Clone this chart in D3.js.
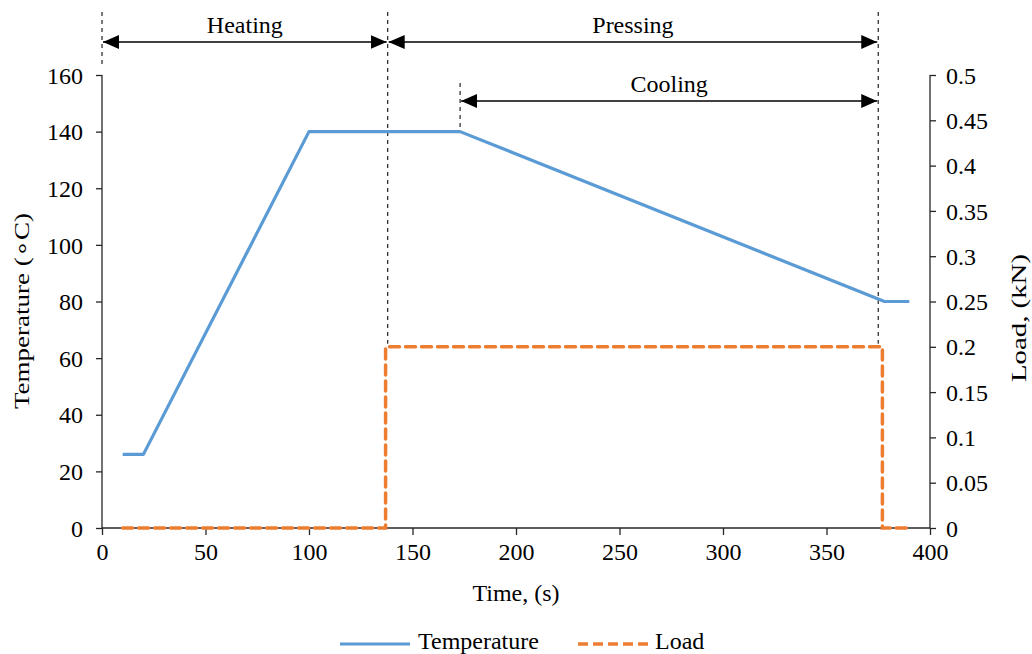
<!DOCTYPE html>
<html>
<head>
<meta charset="utf-8">
<script src="https://cdn.jsdelivr.net/npm/d3@7"></script>
<style>
  html, body { margin: 0; padding: 0; background: #fff; }
  svg { display: block; font-family: "Liberation Serif", "Times New Roman", serif; }
  svg text { font-family: "Liberation Serif", "Times New Roman", serif; }
</style>
</head>
<body>
<svg id="chart" width="1032" height="654"></svg>
<script>
// Temperature profile (°C) over time (s)
const tempTime = [10, 20, 100, 173, 378, 390];
const tempValue = [26, 26, 140, 140, 80, 80];

// Applied load (kN) over time (s)
const loadTime = [10, 137, 137, 377, 377, 390];
const loadValue = [0, 0, 0.2, 0.2, 0, 0];

// Axis ticks
const timeTicks = [0, 50, 100, 150, 200, 250, 300, 350, 400];
const tempTicks = [0, 20, 40, 60, 80, 100, 120, 140, 160];
const loadTicks = [0, 0.05, 0.1, 0.15, 0.2, 0.25, 0.3, 0.35, 0.4, 0.45, 0.5];

// Process stages: label, start, end, arrow row
const stageNames = ["Heating", "Pressing", "Cooling"];
const stageStart = [0, 138, 173];
const stageEnd = [138, 375, 375];
const stageRow = [0, 0, 1];

const svg = d3.select("#chart");
const plot = { left: 102, right: 930, top: 75, bottom: 528 };

const x = d3.scaleLinear().domain([0, 400]).range([plot.left, plot.right]);
const yT = d3.scaleLinear().domain([0, 160]).range([plot.bottom, plot.top]);
const yL = d3.scaleLinear().domain([0, 0.5]).range([plot.bottom, plot.top]);

const FONT = 24;
const SERIF = "'Liberation Serif', 'Times New Roman', serif";
const axisColor = "#262626";

// arrowheads
const defs = svg.append("defs");
function marker(id, orient) {
  defs.append("marker")
    .attr("id", id).attr("viewBox", "0 0 16 14")
    .attr("refX", 16).attr("refY", 7)
    .attr("markerWidth", 16).attr("markerHeight", 14)
    .attr("markerUnits", "userSpaceOnUse")
    .attr("orient", orient)
    .append("path").attr("d", "M0,0 L16,7 L0,14 Z").attr("fill", "#000");
}
marker("arrowEnd", "auto");
marker("arrowStart", "auto-start-reverse");

// axes
const leftAxis = svg.append("g").attr("transform", `translate(${plot.left},0)`)
  .call(d3.axisLeft(yT).tickValues(tempTicks).tickSize(6).tickPadding(13).tickFormat(d3.format("d")));
const rightAxis = svg.append("g").attr("transform", `translate(${plot.right},0)`)
  .call(d3.axisRight(yL).tickValues(loadTicks).tickSize(6).tickPadding(10).tickFormat(d => d === 0 ? "0" : String(+d.toFixed(2))));
const bottomAxis = svg.append("g").attr("transform", `translate(0,${plot.bottom})`)
  .call(d3.axisBottom(x).tickValues(timeTicks).tickSize(7).tickPadding(8).tickFormat(d3.format("d")));

[leftAxis, rightAxis, bottomAxis].forEach(g => {
  g.attr("font-family", SERIF).attr("font-size", FONT);
  g.select(".domain").attr("stroke", axisColor).attr("stroke-width", 1.3);
  g.selectAll(".tick line").attr("stroke", axisColor).attr("stroke-width", 1.3);
  g.selectAll("text").attr("font-size", FONT).attr("fill", "#000").attr("font-family", SERIF);
});
leftAxis.select(".domain").attr("d", `M0,${plot.top}V${plot.bottom}`);
rightAxis.select(".domain").attr("d", `M0,${plot.top}V${plot.bottom}`);
bottomAxis.select(".domain").attr("d", `M${plot.left},0H${plot.right}`);
leftAxis.selectAll(".tick text").attr("dy", "0.34em");
rightAxis.selectAll(".tick text").attr("dy", "0.34em");
bottomAxis.selectAll(".tick text").attr("dy", "0.72em");

// stage boundary guides (dashed)
const guide = svg.append("g").attr("stroke", "#333").attr("stroke-width", 1.3)
  .attr("stroke-dasharray", "4,4").attr("fill", "none");
guide.append("line").attr("x1", x(0)).attr("x2", x(0)).attr("y1", 12).attr("y2", 66);
guide.append("line").attr("x1", x(138)).attr("x2", x(138)).attr("y1", 12).attr("y2", yL(0.2) - 3);
guide.append("line").attr("x1", x(173)).attr("x2", x(173)).attr("y1", 83).attr("y2", yT(140) - 2);
guide.append("line").attr("x1", x(375)).attr("x2", x(375)).attr("y1", 12).attr("y2", yL(0.2) - 3);

// stage arrows and labels
const rowY = [42, 101];
const stages = svg.append("g").attr("font-family", SERIF);
stageNames.forEach((name, i) => {
  const y0 = rowY[stageRow[i]];
  stages.append("line")
    .attr("x1", x(stageStart[i]) + 1).attr("x2", x(stageEnd[i]) - 1)
    .attr("y1", y0).attr("y2", y0)
    .attr("stroke", "#000").attr("stroke-width", 1.5)
    .attr("marker-start", "url(#arrowStart)").attr("marker-end", "url(#arrowEnd)");
  stages.append("text")
    .attr("x", (x(stageStart[i]) + x(stageEnd[i])) / 2).attr("y", y0 - 9)
    .attr("text-anchor", "middle").attr("font-size", FONT).attr("fill", "#000")
    .text(name);
});

// series
const tempLine = d3.line().x((d, i) => x(tempTime[i])).y((d, i) => yT(tempValue[i]));
svg.append("path").datum(tempValue).attr("d", tempLine)
  .attr("fill", "none").attr("stroke", "#5B9BD5").attr("stroke-width", 3.2)
  .attr("stroke-linejoin", "round");

const loadLine = d3.line().x((d, i) => x(loadTime[i])).y((d, i) => yL(loadValue[i]));
svg.append("path").datum(loadValue).attr("d", loadLine)
  .attr("fill", "none").attr("stroke", "#ED7D31").attr("stroke-width", 3.5)
  .attr("stroke-dasharray", "10,6").attr("stroke-linecap", "round");

// axis titles (vertical titles are drawn elongated along their baseline)
svg.append("text").attr("x", (plot.left + plot.right) / 2).attr("y", 601)
  .attr("text-anchor", "middle").attr("font-size", FONT).text("Time, (s)");
const tTitle = svg.append("text").attr("transform", `translate(29,311) rotate(-90)`)
  .attr("text-anchor", "middle").attr("font-size", 22)
  .attr("textLength", 196).attr("lengthAdjust", "spacingAndGlyphs")
  .text("Temperature (\u2218C)");
svg.append("text").attr("transform", `translate(1026,318) rotate(-90)`)
  .attr("text-anchor", "middle").attr("font-size", 22)
  .attr("textLength", 128).attr("lengthAdjust", "spacingAndGlyphs")
  .text("Load, (kN)");

// legend
const legend = svg.append("g");
legend.append("line").attr("x1", 340).attr("x2", 410).attr("y1", 644).attr("y2", 644)
  .attr("stroke", "#5B9BD5").attr("stroke-width", 3.2);
legend.append("text").attr("x", 418).attr("y", 649).attr("font-size", FONT).text("Temperature");
legend.append("line").attr("x1", 578).attr("x2", 648).attr("y1", 644).attr("y2", 644)
  .attr("stroke", "#ED7D31").attr("stroke-width", 3.5).attr("stroke-dasharray", "10,5");
legend.append("text").attr("x", 655).attr("y", 649).attr("font-size", FONT).text("Load");
</script>
</body>
</html>
